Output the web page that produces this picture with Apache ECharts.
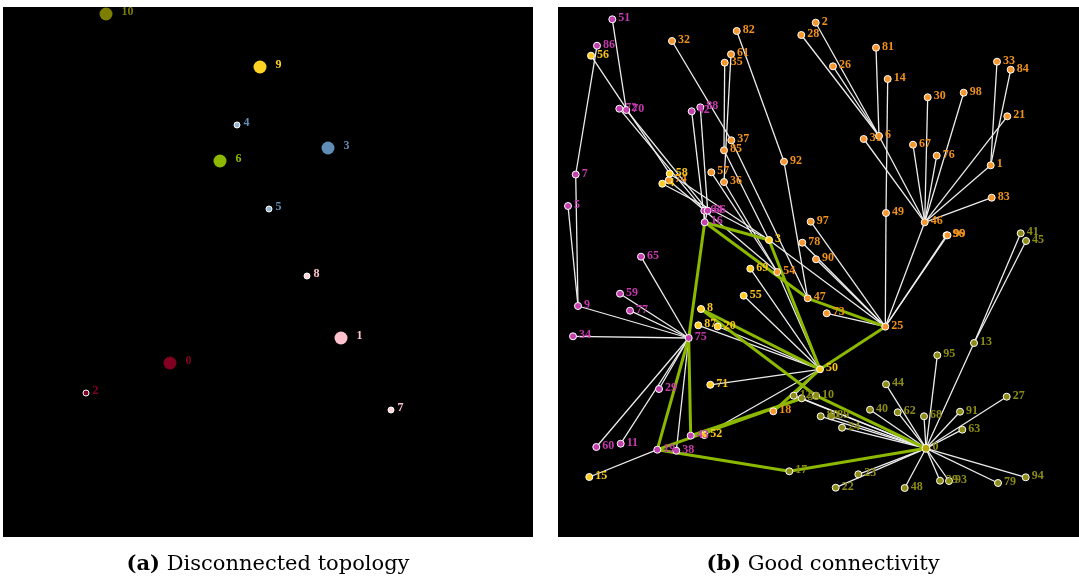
<!DOCTYPE html>
<html><head><meta charset="utf-8">
<script src="https://cdn.jsdelivr.net/npm/echarts@6/dist/echarts.min.js"></script>
<style>html,body{margin:0;padding:0;background:#fff}#c{width:1079px;height:579px}</style>
</head><body><div id="c"></div>
<script>
// ---------- Panel (a): disconnected topology ----------
const aNodes = [
  ["0",167,356],["1",338,331],["2",83,386],["3",325,141],["4",234,118],["5",266,202],
  ["6",217,154],["7",388,403],["8",304,269],["9",257,60],["10",103,7]
];
const aCluster = {"0":"red","1":"pink","2":"red","3":"blue","4":"blue","5":"blue","6":"green","7":"pink","8":"pink","9":"gold","10":"olive"};
const aHeads = ["0","1","3","6","9","10"];

// ---------- Panel (b): good connectivity ----------
const magentaNodes = [
  ["51",54.3,12.3],["86",39,38.7],["72",61.3,101.7],["70",68.3,103],["42",133.7,104.3],["88",142.3,100.3],
  ["7",17.7,167.5],["5",10,199],["64",146.3,203.7],["66",149.7,203.7],["16",146.7,215.3],["65",83,249.7],
  ["9",20,299],["59",62,286.7],["77",72,303.7],["34",15,329.3],["75",130.7,331],["29",101,382],
  ["43",132.7,428.7],["60",38.3,440],["11",62.7,436.7],["19",99.3,442.7],["38",118.3,443.7]
];
const yellowNodes = [
  ["56",33,48.7],["58",111.7,166.7],["4",104.3,176.7],["3",211,233],["69",192.3,261.7],["55",185.7,288.7],
  ["8",143,302],["87",140.3,318.3],["20",159.7,319.5],["50",262,362.3],["71",152.3,377.8],["52",146.3,428],
  ["15",31.3,470]
];
const orangeNodes = [
  ["32",114,34],["82",178.7,24],["28",243.3,28],["2",257.7,15.7],["61",173,47.3],["35",166.7,55.7],
  ["37",173.3,133.3],["85",166,143.3],["92",226,154.7],["57",153.3,165.3],["74",110.7,173.3],["36",166,175],
  ["81",318,40.7],["26",275,59.3],["14",329.7,72],["33",439,54.7],["84",452.7,62.7],["30",369.7,90.3],
  ["98",405.7,85.7],["21",449.3,109.3],["31",305.7,132],["6",321,129],["67",355,137.7],["76",378.7,148.7],
  ["1",432.7,158.3],["83",433.7,190.7],["49",328,206],["46",366.7,215.3],["96",388.5,228.3],["99",389.5,228.3],
  ["97",252.7,214.7],["78",244.3,235.7],["90",258,252.3],["54",219.3,265],["47",249.7,291.3],["73",268.7,306.3],
  ["25",327.3,319.7],["18",215.3,404.3]
];
const oliveNodes = [
  ["41",462.7,226.3],["45",468,234],["13",416,336],["95",379.3,348.3],["44",328,377.3],["12",235.7,388.7],
  ["53",243.7,391.3],["10",258,388.7],["27",448.7,389.7],["40",312,402.7],["62",339.7,405.3],["91",402,404.7],
  ["80",262.7,409.3],["89",273.3,409.3],["68",366,409.3],["24",284,420.7],["63",404.3,422.7],["17",231.3,464.3],
  ["23",300.3,467.3],["22",277.7,480.7],["48",346.7,481],["39",382,473.7],["93",391,474],["79",440,476],
  ["94",467.7,470.3],["0",368,441.3]
];
const whiteEdges = [
  ["51","70"],["86","7"],["7","9"],["5","9"],["9","75"],["34","75"],["59","75"],["77","75"],["65","75"],
  ["75","60"],["75","29"],["75","11"],["75","38"],["72","64"],["70","66"],["42","16"],["88","66"],
  ["64","16"],["66","16"],["15","19"],
  ["56","58"],["58","3"],["4","3"],["87","50"],["20","50"],["55","50"],["69","50"],["71","50"],["52","50"],
  ["54","50"],["50","12"],
  ["2","6"],["28","6"],["26","6"],["81","6"],["6","46"],["14","49"],["49","25"],["31","46"],["67","46"],
  ["30","46"],["76","46"],["98","46"],["21","46"],["33","1"],["84","1"],["1","46"],["83","46"],["46","25"],
  ["96","25"],["99","25"],["73","25"],["97","25"],["78","25"],["90","25"],["92","47"],["82","92"],["47","25"],
  ["35","85"],["61","36"],["32","37"],["37","47"],["85","3"],["57","54"],["36","54"],["74","54"],["3","25"],
  ["41","13"],["45","13"],["13","0"],["95","0"],["44","0"],["12","0"],["53","0"],["10","0"],["27","0"],
  ["40","0"],["62","0"],["91","0"],["80","0"],["89","0"],["68","0"],["24","0"],["63","0"],["23","0"],
  ["22","0"],["48","0"],["39","0"],["93","0"],["79","0"],["94","0"]
];
const greenEdges = [
  ["16","3"],["16","47"],["47","25"],["3","50"],["16","75"],["75","19"],["75","43"],["8","50"],["8","10"],
  ["10","0"],["50","25"],["50","18"],["19","53"],["43","53"],["19","17"],["17","0"]
];

// ---------- styles ----------
const aFill = {red:"#800022",pink:"#ffc2cc",blue:"#5f8db6",green:"#8cb800",gold:"#ffd224",olive:"#7d7d00"};
const aSmallFill = {red:"#800022",pink:"#ffd2da",blue:"#93b6d4"};
const groupStyle = {
  magenta:{fill:"#c440ae",text:"#c43aaa"},
  yellow:{fill:"#ffcc1f",text:"#f8c51c"},
  orange:{fill:"#f5962e",text:"#f0901e"},
  olive:{fill:"#8c8c16",text:"#8c8c14"}
};
const labelFont = "Liberation Serif";

const aData = aNodes.map(([n,x,y]) => {
  const c = aCluster[n], big = aHeads.includes(n);
  return {
    name:n, value:[x,y],
    symbolSize: big ? 13 : 6,
    itemStyle:{color: big ? aFill[c] : aSmallFill[c], borderColor: big ? aFill[c] : '#ffffff', borderWidth: big ? 0 : 1, opacity:1},
    label:{color: c==='blue' ? '#5f8db6' : aFill[c], distance: big ? 9 : 3}
  };
});

function mk(list, g){
  return list.map(([n,x,y]) => ({
    name:n, value:[x,y],
    symbolSize: n==="0" && g==="olive" ? 8 : 7,
    itemStyle:{color: n==="0" && g==="olive" ? "#b8a800" : groupStyle[g].fill, borderColor:'#ffffff', borderWidth:1, opacity:1},
    label:{color: groupStyle[g].text}
  }));
}
const bData = [].concat(mk(orangeNodes,'orange'), mk(oliveNodes,'olive'), mk(yellowNodes,'yellow'), mk(magentaNodes,'magenta'));
const bLinks = whiteEdges.map(([s,t]) => ({source:s,target:t,lineStyle:{color:'#ececec',width:1.3,opacity:1}}))
  .concat(greenEdges.map(([s,t]) => ({source:s,target:t,lineStyle:{color:'#8cb800',width:3,opacity:1}})));

const chart = echarts.init(document.getElementById('c'), null, {renderer:'canvas'});
chart.setOption({
  animation:false,
  backgroundColor:'#ffffff',
  grid:[
    {left:3,top:7,width:530,height:530,show:true,backgroundColor:'#000',borderWidth:0},
    {left:558,top:7,width:521,height:530,show:true,backgroundColor:'#000',borderWidth:0}
  ],
  xAxis:[
    {gridIndex:0,type:'value',min:0,max:530,show:false},
    {gridIndex:1,type:'value',min:0,max:521,show:false}
  ],
  yAxis:[
    {gridIndex:0,type:'value',min:0,max:530,inverse:true,show:false},
    {gridIndex:1,type:'value',min:0,max:530,inverse:true,show:false}
  ],
  series:[
    {
      type:'scatter', xAxisIndex:0, yAxisIndex:0, clip:false, data:aData,
      itemStyle:{opacity:1},
      label:{show:true, position:'right', formatter:'{b}', fontFamily:labelFont, fontWeight:'bold', fontSize:12, offset:[0,-2]},
      emphasis:{disabled:true}
    },
    {
      type:'graph', coordinateSystem:'cartesian2d', xAxisIndex:1, yAxisIndex:1,
      data:bData, links:bLinks, roam:false,
      label:{show:true, position:'right', distance:2, formatter:'{b}', fontFamily:labelFont, fontWeight:'bold', fontSize:12, offset:[0,-1]},
      lineStyle:{opacity:1, curveness:0},
      emphasis:{disabled:true}
    }
  ],
  graphic:[
    {type:'text', x:268, y:565, style:{text:'{b|(a)} Disconnected topology', textAlign:'center', textVerticalAlign:'middle',
      fontFamily:'DejaVu Serif', fontSize:21, fill:'#000', rich:{b:{fontFamily:'DejaVu Serif', fontWeight:'bold', fontSize:21, fill:'#000'}}}},
    {type:'text', x:823, y:565, style:{text:'{b|(b)} Good connectivity', textAlign:'center', textVerticalAlign:'middle',
      fontFamily:'DejaVu Serif', fontSize:21, fill:'#000', rich:{b:{fontFamily:'DejaVu Serif', fontWeight:'bold', fontSize:21, fill:'#000'}}}}
  ]
});
</script></body></html>
